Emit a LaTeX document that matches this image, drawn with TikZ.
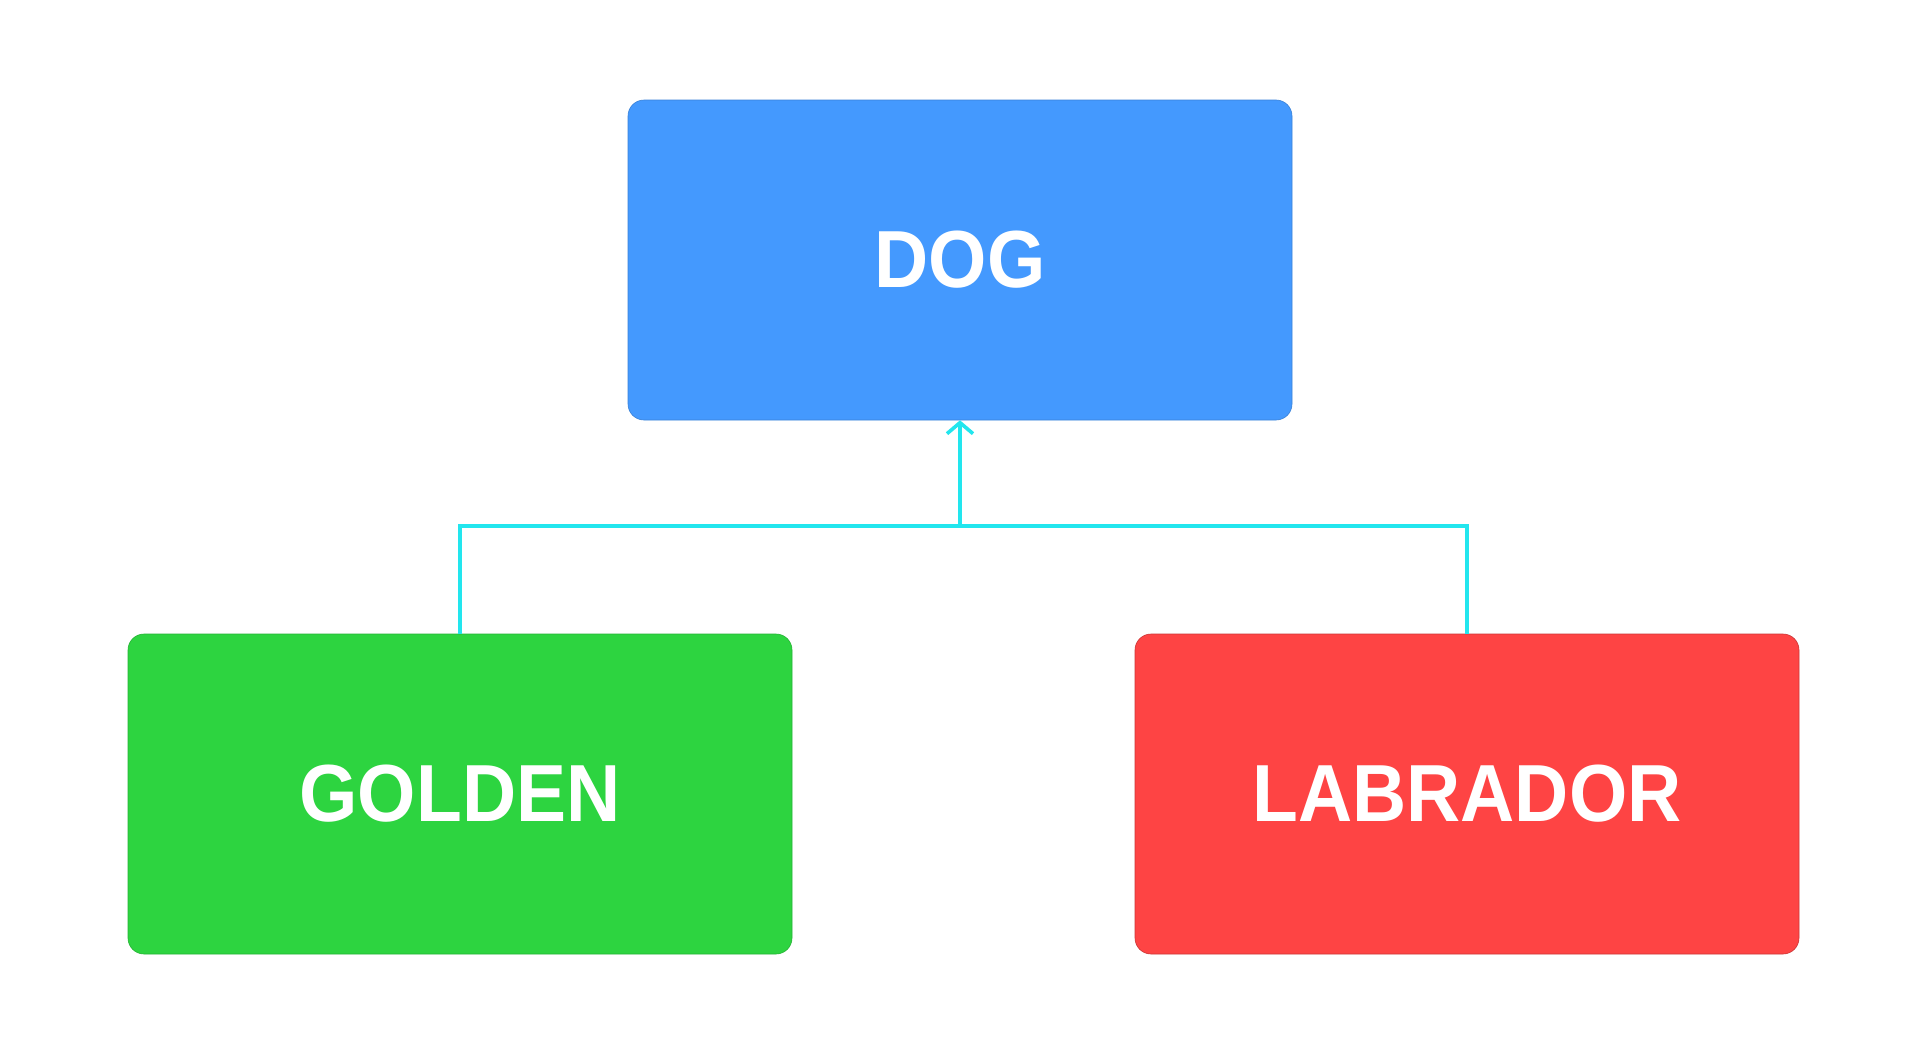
\documentclass[tikz,border=0pt]{standalone}
\usepackage{fontspec}
\setmainfont{Liberation Sans}
\usetikzlibrary{arrows.meta}
\definecolor{dogblue}{HTML}{4499FE}
\definecolor{goldgreen}{HTML}{2DD440}
\definecolor{labred}{HTML}{FE4444}
\definecolor{conn}{HTML}{22E6EE}
\newcommand{\boxlabel}[1]{\raisebox{-3pt}{\scalebox{1}[1.08]{#1}}}
\tikzset{
  box/.style={rounded corners=16pt, minimum width=664pt, minimum height=320pt, inner sep=0pt,
    text=white, font=\fontsize{75}{75}\selectfont\bfseries},
  link/.style={draw=conn, line width=3.6pt},
}
\begin{document}
\begin{tikzpicture}[x=1pt,y=-1pt]
\useasboundingbox[fill=white] (0,0) rectangle (1920,1055);
\node[box, fill=dogblue, draw=dogblue!85!black, line width=0.6pt] (dog) at (960,260) {\boxlabel{DOG}};
\node[box, fill=goldgreen, draw=goldgreen!85!black, line width=0.6pt] (golden) at (460,794) {\boxlabel{GOLDEN}};
\node[box, fill=labred, draw=labred!80!black, line width=0.6pt] (lab) at (1467,794) {\boxlabel{LABRADOR}};
\coordinate (junc) at (960,526);
\draw[link] (golden.north) -- (golden.north |- junc) -- (lab.north |- junc) -- (lab.north);
\draw[link, -{Straight Barb[length=11pt,width=26pt,line width=3.6pt]}] (junc) -- (dog.south);
\end{tikzpicture}
\end{document}
